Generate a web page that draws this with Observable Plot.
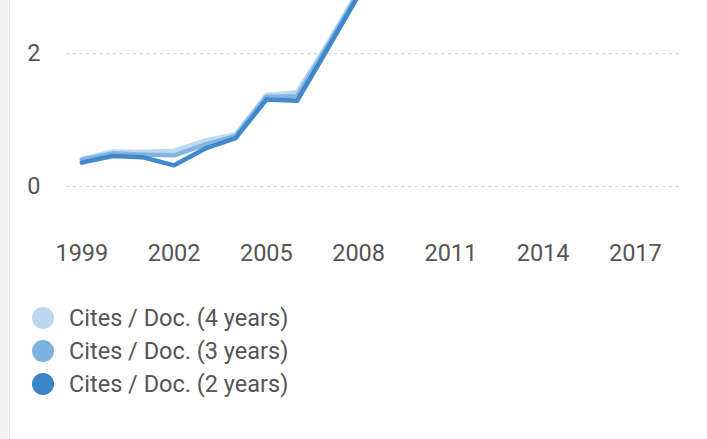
<!DOCTYPE html>
<html>
<head>
<meta charset="utf-8">
<script src="https://cdn.jsdelivr.net/npm/d3@7"></script>
<script src="https://cdn.jsdelivr.net/npm/@observablehq/plot@0.6"></script>
<style>
  html, body { margin: 0; padding: 0; background: #fff; width: 707px; height: 439px; overflow: hidden; }
  body { position: relative; font-family: Roboto, "Noto Sans", sans-serif; }
  #stripe { position: absolute; left: 0; top: 0; width: 9px; height: 439px; background: #f3f3f3; border-right: 1px solid #e9e9e9; }
  #chart svg { display: block; }
  #legend { padding-top: 11px; }
  .row { position: relative; height: 33px; }
  .dot { position: absolute; left: 32px; top: 6px; width: 22px; height: 22px; border-radius: 50%; }
  .lab { position: absolute; left: 69px; top: 2px; font-size: 23.5px; color: #555; line-height: 30px; white-space: nowrap; }
</style>
</head>
<body>
<div id="stripe"></div>
<div id="chart"></div>
<div id="legend"></div>
<script>
const years = [1999, 2000, 2001, 2002, 2003, 2004, 2005, 2006, 2007, 2008];
const cites4 = [0.42, 0.53, 0.52, 0.54, 0.69, 0.79, 1.38, 1.42, 2.16, 2.95];
const cites3 = [0.40, 0.50, 0.48, 0.47, 0.63, 0.76, 1.35, 1.36, 2.12, 2.92];
const cites2 = [0.36, 0.46, 0.44, 0.32, 0.57, 0.73, 1.31, 1.29, 2.08, 2.88];
const seriesNames = ["Cites / Doc. (4 years)", "Cites / Doc. (3 years)", "Cites / Doc. (2 years)"];
const seriesColors = ["#bcd7ef", "#7db1df", "#3a84c8"];
const xTicks = [1999, 2002, 2005, 2008, 2011, 2014, 2017];
const yTicks = [0, 2];

const seriesValues = [cites4, cites3, cites2];
const data = seriesValues.flatMap((vals, i) => vals.map((v, j) => ({year: years[j], value: v, series: seriesNames[i]})));

const chart = Plot.plot({
  width: 707,
  height: 290,
  marginLeft: 66,
  marginRight: 26,
  marginTop: 0,
  marginBottom: 70,
  style: {fontFamily: "Roboto, sans-serif", fontSize: "23.5px", color: "#555", background: "transparent", overflow: "hidden"},
  x: {domain: [1998.5, 2018.5]},
  y: {domain: [-0.51, 2.8]},
  color: {domain: seriesNames, range: seriesColors},
  marks: [
    Plot.ruleY(yTicks, {stroke: "#cfcfcf", strokeWidth: 1, strokeDasharray: "3.3,3.4"}),
    Plot.axisY(yTicks, {tickSize: 0, tickPadding: 26, label: null, tickFormat: d => String(d), fill: "#555", fontSize: 23.5}),
    Plot.axisX(xTicks, {tickSize: 0, tickPadding: 24, label: null, tickFormat: d => String(d), fill: "#555", fontSize: 23.5}),
    Plot.line(data, {x: "year", y: "value", z: "series", stroke: "series", strokeWidth: 4.5, strokeOpacity: 0.95, clip: true, curve: "linear"})
  ]
});
document.getElementById("chart").appendChild(chart);

const legend = document.getElementById("legend");
seriesNames.forEach((name, i) => {
  const row = document.createElement("div");
  row.className = "row";
  const dot = document.createElement("span");
  dot.className = "dot";
  dot.style.background = seriesColors[i];
  const lab = document.createElement("span");
  lab.className = "lab";
  lab.textContent = name;
  row.appendChild(dot);
  row.appendChild(lab);
  legend.appendChild(row);
});
</script>
</body>
</html>
